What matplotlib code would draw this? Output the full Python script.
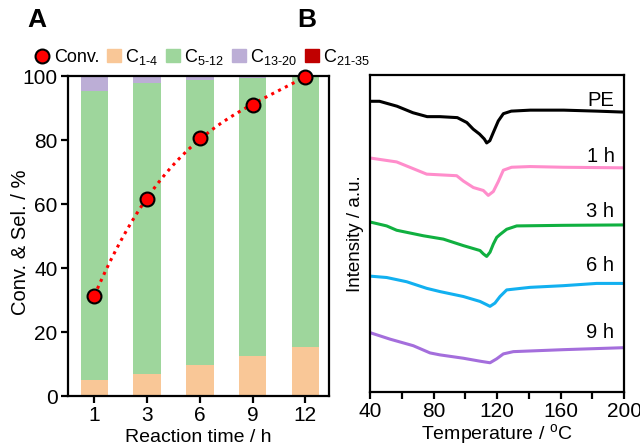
import numpy as np
import matplotlib
matplotlib.use("Agg")
import matplotlib.pyplot as plt
from matplotlib.lines import Line2D
from matplotlib.patches import Patch

plt.rcParams['font.family'] = ['Liberation Sans', 'DejaVu Sans']
plt.rcParams['mathtext.fontset'] = 'custom'
plt.rcParams['mathtext.rm'] = 'Liberation Sans'
plt.rcParams['mathtext.it'] = 'Liberation Sans'

# ---- Panel A data ----
times = ["1", "3", "6", "9", "12"]
conv = [31.4, 61.7, 80.5, 91.0, 99.8]
c1_4 = [5.1, 6.9, 9.6, 12.4, 15.4]
c5_12 = [90.3, 91.0, 89.2, 86.9, 84.4]
c13_20 = [4.6, 2.1, 1.2, 0.7, 0.2]
c21_35 = [0.0, 0.0, 0.0, 0.0, 0.0]

# ---- Panel B data (DSC curves) ----
pe_T = [40, 46, 57, 67, 76, 84, 95, 101, 105, 109, 112, 113.5, 115.5, 117.7, 120.8, 124, 129, 141, 162, 183, 200]
pe_I = [295.3, 295.3, 290.3, 283.7, 279.7, 279.7, 278.7, 273.7, 267, 262, 257, 253, 255.3, 263.7, 275.3, 282.7, 285.3, 286.3, 286.3, 285.3, 284.3]
h1_T = [40, 56.8, 75.7, 94.6, 98.8, 105.1, 111.4, 114.5, 117.7, 120.8, 124, 129.2, 140.8, 161.8, 199.6]
h1_I = [237.7, 233.7, 221.3, 219.7, 214.3, 207.7, 204.7, 199.7, 203.7, 213.7, 225.3, 228.3, 229, 228.3, 227.7]
h3_T = [40, 50.5, 56.8, 73.6, 86.2, 98.8, 109.3, 111.4, 113.5, 115.6, 117.7, 119.8, 121.9, 126.1, 132.4, 161.8, 199.6]
h3_I = [172.7, 168.7, 164.3, 158.7, 155.3, 148.7, 143.7, 140.3, 137.7, 142, 150.3, 157, 160, 165.3, 168.7, 169.3, 169.7]
h6_T = [40, 50.5, 63.1, 75.7, 84.1, 98.8, 109.3, 113.5, 115.6, 118.7, 121.9, 126.1, 140.8, 161.8, 182.8, 199.6]
h6_I = [117.7, 116.3, 112, 105.3, 102, 97, 92, 88.7, 87, 90.3, 97, 103.7, 106.3, 108, 110.3, 110.3]
h9_T = [40, 52.6, 67.3, 77.8, 84.1, 98.8, 109.3, 115.6, 119.8, 124, 130.3, 161.8, 199.6]
h9_I = [60.3, 53.7, 47, 39.7, 37.7, 34.3, 31.3, 29.7, 33.7, 38.7, 41, 43, 45]
curve_labels = ["PE", "1 h", "3 h", "6 h", "9 h"]
label_y = [296, 239, 183, 129, 60]

col_c14 = "#F9C797"
col_c512 = "#9ED69C"
col_c1320 = "#BCAED6"
col_c2135 = "#C00000"

fig = plt.figure(figsize=(6.4, 4.48), dpi=100)
W, H = 640, 448
axA = fig.add_axes([68 / W, 1 - 396 / H, (329 - 68) / W, (396 - 76) / H])
axB = fig.add_axes([370 / W, 1 - 392 / H, (624 - 370) / W, (392 - 75) / H])

x = np.arange(len(times))
bw = 0.52
b0 = np.zeros(len(times))
for vals, c in [(c1_4, col_c14), (c5_12, col_c512), (c13_20, col_c1320), (c21_35, col_c2135)]:
    axA.bar(x, vals, bw, bottom=b0, color=c, edgecolor='none', zorder=1)
    b0 = b0 + np.array(vals)

# smooth fit of conversion
p = np.polyfit(x, conv, 3)
xs = np.linspace(0, len(times) - 1, 200)
axA.plot(xs, np.polyval(p, xs), ls=(0, (1, 1.5)), color='red', lw=2.2, zorder=2)
axA.plot(x, conv, 'o', ms=10, mfc='red', mec='black', mew=1.5, zorder=3, clip_on=False)

axA.set_xlim(-0.5, 4.45)
axA.set_ylim(0, 100)
axA.set_yticks([0, 20, 40, 60, 80, 100])
axA.set_xticks(x)
axA.set_xticklabels(times)
axA.set_ylabel("Conv. & Sel. / %", fontsize=14.5)
axA.yaxis.set_label_coords(-0.145, 0.48)

lw_sp = 1.6
for ax in (axA, axB):
    for s in ax.spines.values():
        s.set_linewidth(lw_sp)
    ax.tick_params(direction='out', width=lw_sp, length=5, labelsize=15, pad=2.5)

# Panel B
colors_B = ["black", "#FF8DCB", "#10B040", "#12B0F0", "#A46EDC"]
curves = [(pe_T, pe_I), (h1_T, h1_I), (h3_T, h3_I), (h6_T, h6_I), (h9_T, h9_I)]
for (T, I), c, lab, ly in zip(curves, colors_B, curve_labels, label_y):
    axB.plot(T, I, color=c, lw=2.2, solid_capstyle='round', solid_joinstyle='round')
    axB.text(194, ly, lab, ha='right', va='center', fontsize=14.5)

axB.set_xlim(40, 200)
axB.set_ylim(0, 322)
axB.set_xticks([40, 80, 120, 160, 200])
axB.set_xticks([60, 100, 140, 180], minor=True)
axB.tick_params(which='minor', direction='out', width=lw_sp, length=5)
axB.tick_params(axis='x', pad=2)
axB.set_yticks([])
axB.set_ylabel("Intensity / a.u.", fontsize=13.5, labelpad=4)

# x labels placed near the bottom edge, fully inside the figure
fig.text((68 + 329) / 2 / W, 2 / H, "Reaction time / h", fontsize=14, ha='center', va='bottom')
fig.text((370 + 624) / 2 / W, 2 / H, "Temperature / $^{\\rm o}$C", fontsize=14, ha='center', va='bottom')

fig.text(27 / W, 1 - 20 / H, "A", fontsize=19, fontweight='bold', va='center', ha='left')
fig.text(297 / W, 1 - 20 / H, "B", fontsize=19, fontweight='bold', va='center', ha='left')

handles = [
    Line2D([], [], marker='o', ls='none', ms=10, mfc='red', mec='black', mew=1.5),
    Patch(color=col_c14), Patch(color=col_c512), Patch(color=col_c1320), Patch(color=col_c2135),
]
labels = ["Conv.", "C$_{\\text{1-4}}$", "C$_{\\text{5-12}}$", "C$_{\\text{13-20}}$", "C$_{\\text{21-35}}$"]
fig.legend(handles, labels, loc='center', bbox_to_anchor=(203 / W, 1 - 57 / H), ncol=5,
           frameon=False, fontsize=13, handlelength=0.75, handleheight=0.75, handletextpad=0.25,
           columnspacing=0.45, borderaxespad=0, borderpad=0)

fig.savefig("out.png", dpi=100)
